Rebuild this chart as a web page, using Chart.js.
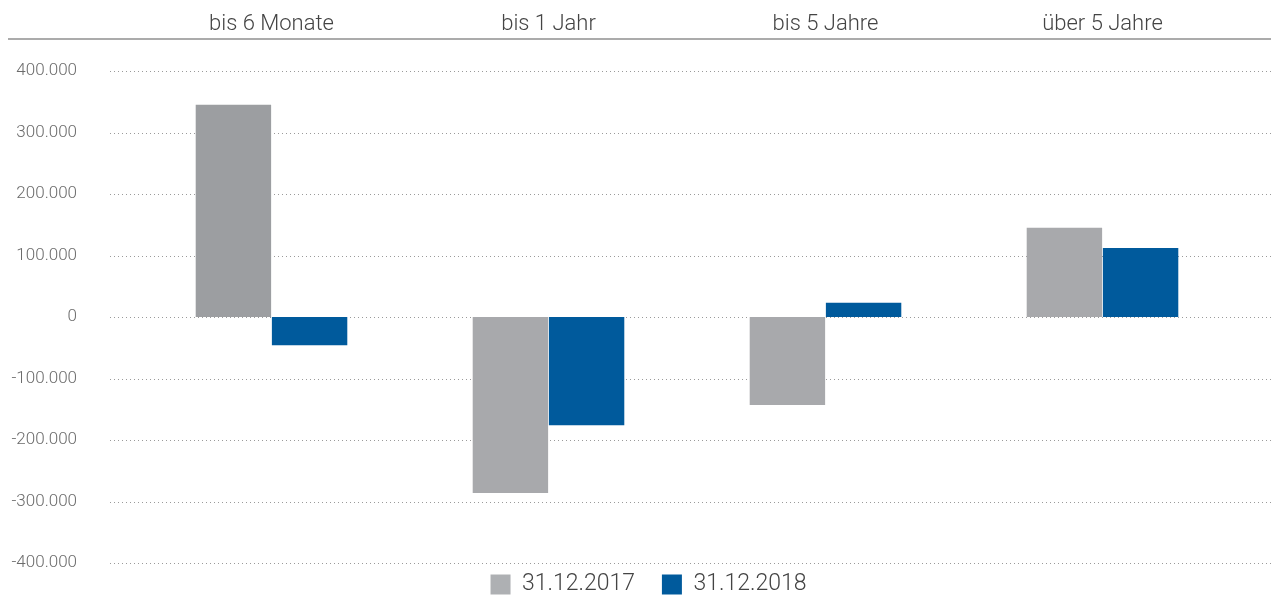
<!DOCTYPE html>
<html><head><meta charset="utf-8">
<script src="https://cdn.jsdelivr.net/npm/chart.js@4/dist/chart.umd.min.js"></script>
<style>html,body{margin:0;padding:0;background:#fff}canvas{display:block}</style>
</head><body><canvas id="c" width="1271" height="599"></canvas>
<script>
const categories = ["bis 6 Monate", "bis 1 Jahr", "bis 5 Jahre", "über 5 Jahre"];
const seriesLabels = ["31.12.2017", "31.12.2018"];
const values2017 = [345000, -286000, -143000, 145000];
const values2018 = [-46000, -176000, 23000, 112000];
const yTicks = [400000, 300000, 200000, 100000, 0, -100000, -200000, -300000, -400000];

const FONT = "Roboto";
const fmt = v => v === 0 ? "0" : (v < 0 ? "-" : "") + Math.abs(v).toLocaleString("de-DE");

const extLines = {
  id: "extLines",
  afterLayout(chart) {
    const L = chart.legend;
    L.left += 28; L.right += 28;
  },
  beforeDatasetsDraw(chart) {
    const ctx = chart.ctx, y = chart.scales.y;
    ctx.save();
    ctx.strokeStyle = "#9a9a9a";
    ctx.lineWidth = 1;
    ctx.setLineDash([1, 3]);
    yTicks.forEach(t => {
      const py = Math.round(y.getPixelForValue(t)) + 0.5;
      ctx.beginPath(); ctx.moveTo(110, py); ctx.lineTo(1271, py); ctx.stroke();
    });
    ctx.setLineDash([]);
    ctx.strokeStyle = "#8f8f8f";
    ctx.lineWidth = 1.5;
    ctx.beginPath(); ctx.moveTo(8, 39); ctx.lineTo(1271, 39); ctx.stroke();
    ctx.restore();
  }
};

new Chart(document.getElementById("c"), {
  type: "bar",
  data: {
    labels: categories,
    datasets: [
      { label: seriesLabels[0], data: values2017, backgroundColor: ["#9C9EA1", "#A8A9AC", "#A8A9AC", "#A8A9AC"], borderWidth: 0 },
      { label: seriesLabels[1], data: values2018, backgroundColor: "#005A9C", borderWidth: 0 }
    ]
  },
  options: {
    responsive: false, maintainAspectRatio: false, animation: false,
    devicePixelRatio: 1,
    layout: { padding: { left: 0, right: 30, top: 0, bottom: 0 } },
    datasets: { bar: { categoryPercentage: 0.55, barPercentage: 0.99 } },
    plugins: {
      legend: {
        position: "bottom",
        maxHeight: 36,
        labels: {
          font: { family: FONT, size: 23, weight: 300 }, color: "#444",
          boxWidth: 20, boxHeight: 20, padding: 10,
          generateLabels: (chart) => seriesLabels.map((l, i) => ({
            text: i === 0 ? l + "   " : l, fillStyle: i === 0 ? "#AEB0B3" : "#005A9C", strokeStyle: "rgba(0,0,0,0)", lineWidth: 0, datasetIndex: i, fontColor: "#444"
          }))
        }
      },
      tooltip: { enabled: false }
    },
    scales: {
      x: {
        position: "top",
        grid: { display: false, drawTicks: false },
        border: { display: false },
        ticks: { font: { family: FONT, size: 22, weight: 300 }, color: "#444", padding: 33, maxRotation: 0 },
        afterFit(s) { s.height = 71; }
      },
      y: {
        min: -400000, max: 400000,
        grid: { display: false, drawTicks: false },
        border: { display: false },
        afterBuildTicks(s) { s.ticks = yTicks.map(v => ({ value: v })); },
        ticks: { font: { family: FONT, size: 17, weight: 300 }, color: "#6b6b6b", padding: 56, callback: v => fmt(v) },
        afterFit(s) { s.width = 133; s.paddingTop = 0; s.paddingBottom = 0; }
      }
    }
  },
  plugins: [extLines]
});
</script></body></html>
